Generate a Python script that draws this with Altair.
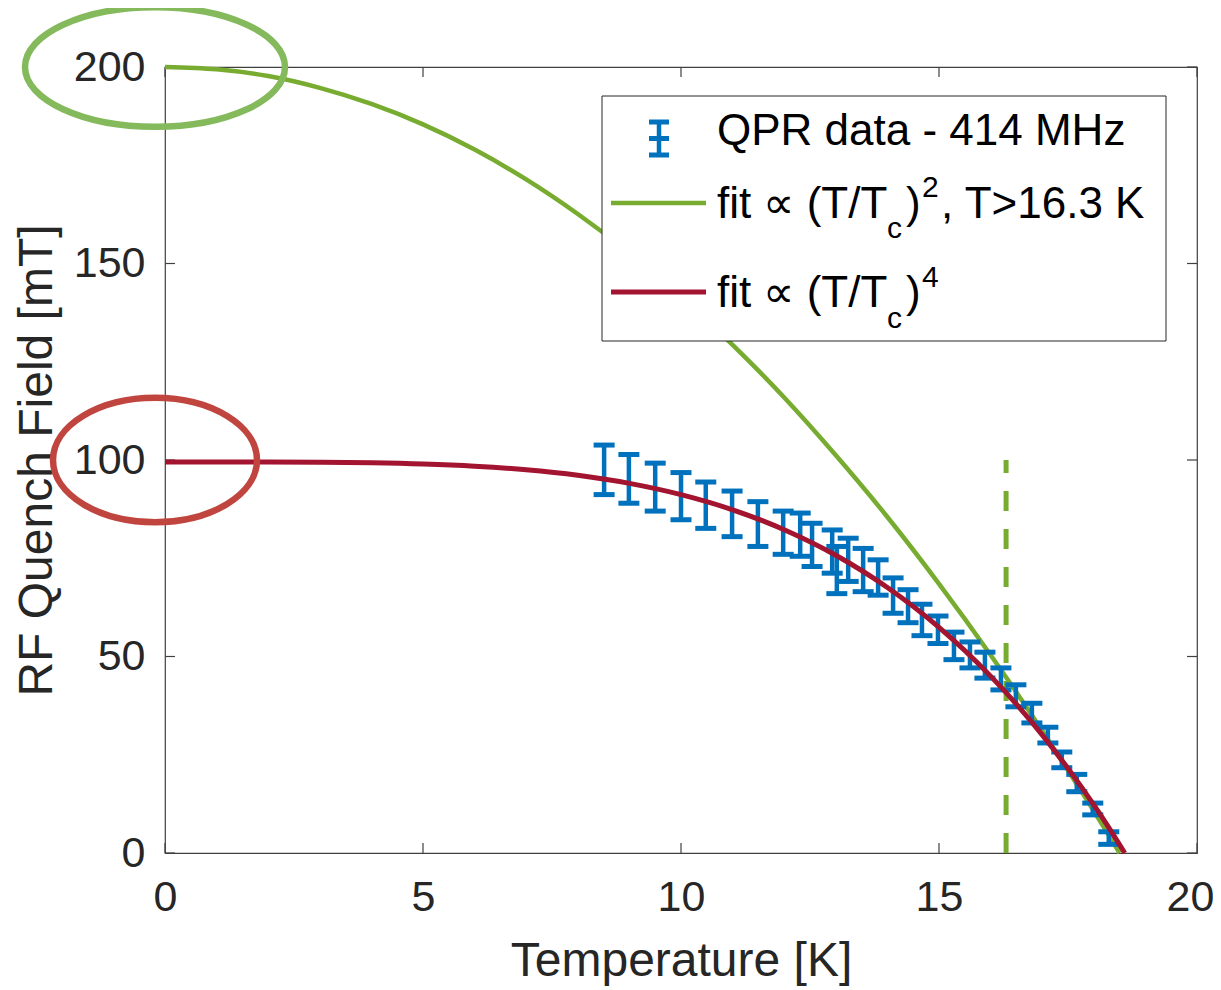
import altair as alt
import pandas as pd

# ---------------- data ----------------
temp_K = [8.51, 8.99, 9.50, 10.00, 10.48, 10.99, 11.49, 11.98, 12.31, 12.54,
          12.93, 13.02, 13.24, 13.53, 13.82, 14.11, 14.40, 14.67, 14.98, 15.29,
          15.60, 15.89, 16.20, 16.49, 16.80, 17.11, 17.38, 17.67, 17.98, 18.29]
field_mT = [97.5, 95.2, 93.1, 90.8, 88.5, 86.3, 83.7, 81.5, 81.0, 78.4,
            76.7, 72.0, 74.6, 72.0, 70.1, 65.5, 62.8, 59.3, 56.8, 52.7,
            50.4, 47.8, 44.3, 40.0, 35.6, 30.0, 23.7, 17.8, 11.2, 3.8]
err_mT = [6.3, 6.2, 6.1, 6.0, 5.9, 5.8, 5.7, 5.5, 5.5, 5.5,
          5.5, 6.0, 5.5, 5.5, 4.5, 4.5, 4.2, 4.0, 3.5, 3.5,
          3.3, 3.3, 2.8, 2.8, 2.5, 2.0, 2.0, 2.2, 1.5, 1.6]

fit2_T = [0, 1, 2, 3, 4, 5, 6, 7, 8, 9, 10, 11, 12, 13, 14, 15, 16, 17, 17.5, 18, 18.25, 18.5]
fit2_B = [200, 199.4, 197.7, 194.7, 190.6, 185.4, 179.0, 171.4, 162.6, 152.7, 141.6,
          129.3, 115.9, 101.2, 85.5, 68.5, 50.4, 31.1, 21.0, 10.7, 5.4, 0]

fit4_T = [0, 1, 2, 3, 4, 5, 6, 7, 8, 9, 10, 11, 12, 13, 14, 15, 16, 17, 17.5, 18, 18.25, 18.6]
fit4_B = [99.5, 99.5, 99.49, 99.43, 99.29, 98.98, 98.42, 97.50, 96.10, 94.05, 91.19,
          87.33, 82.26, 75.76, 67.56, 57.41, 45.01, 30.06, 21.5, 12.24, 7.3, 0]

cut_T = [16.3]
cut_range = [0, 100]

x_ticks = [0, 5, 10, 15, 20]
y_ticks = [0, 50, 100, 150, 200]

x_title = "Temperature [K]"
y_title = "RF Quench Field [mT]"
legend_data = "QPR data - 414 MHz"
legend_fit_main = "fit \u221d (T/T"
legend_sub = "c"
legend_paren = ")"
legend_sup2 = "2"
legend_sup4 = "4"
legend_fit2_tail = ", T>16.3 K"

# ---------------- styling ----------------
FONT = "Liberation Sans"
TXT = "#262626"
AX = "#404040"
BLUE = "#0072BD"
GREEN = "#77AC30"
RED = "#A2142F"
W, H = 1032, 786

xs = alt.Scale(domain=[0, 20], nice=False, zero=False)
ys = alt.Scale(domain=[0, 200], nice=False, zero=False)

xaxis = alt.Axis(values=x_ticks, title=x_title, ticks=False, tickSize=0, domain=False, grid=False,
                 labelFlush=False, labelOverlap=False,
                 labelOffset=alt.ExprRef(expr="datum.value == 20 ? -7 : 0"),
                 labelFont=FONT, labelFontSize=43, labelColor=TXT, labelPadding=23,
                 titleFont=FONT, titleFontSize=48, titleFontWeight="normal", titleColor=TXT,
                 titlePadding=18)
yaxis = alt.Axis(values=y_ticks, title=y_title, ticks=False, tickSize=0, domain=False, grid=False,
                 labelFlush=False, labelOverlap=False,
                 labelFont=FONT, labelFontSize=43, labelColor=TXT, labelPadding=20,
                 titleFont=FONT, titleFontSize=48, titleFontWeight="normal", titleColor=TXT,
                 titlePadding=12)


def X(f):
    return alt.X(f, type="quantitative", scale=xs, axis=xaxis)


def Y(f):
    return alt.Y(f, type="quantitative", scale=ys, axis=yaxis)


pts = pd.DataFrame({
    "T": temp_K,
    "B": field_mT,
    "lo": [b - e for b, e in zip(field_mT, err_mT)],
    "hi": [b + e for b, e in zip(field_mT, err_mT)],
})
g_df = pd.DataFrame({"T": fit2_T, "B": fit2_B})
r_df = pd.DataFrame({"T": fit4_T, "B": fit4_B})
cut_df = pd.DataFrame({"T": cut_T, "lo": [cut_range[0]], "hi": [cut_range[1]]})
xt_df = pd.DataFrame({"T": x_ticks})
yt_df = pd.DataFrame({"B": y_ticks})
ell_g = pd.DataFrame({"T": [0], "B": [200]})
ell_r = pd.DataFrame({"T": [0], "B": [100]})
one = alt.Data(values=[{"k": 1}])

layers = []

# inward ticks (bottom, top, left, right)
layers.append(alt.Chart(xt_df).mark_rule(color=AX, strokeWidth=1.2).encode(
    x=X("T"), y=alt.value(H), y2=alt.value(H - 10)))
layers.append(alt.Chart(xt_df).mark_rule(color=AX, strokeWidth=1.2).encode(
    x=X("T"), y=alt.value(0), y2=alt.value(10)))
layers.append(alt.Chart(yt_df).mark_rule(color=AX, strokeWidth=1.2).encode(
    y=Y("B"), x=alt.value(0), x2=alt.value(10)))
layers.append(alt.Chart(yt_df).mark_rule(color=AX, strokeWidth=1.2).encode(
    y=Y("B"), x=alt.value(W), x2=alt.value(W - 10)))

# fit curve (T/Tc)^2
layers.append(alt.Chart(g_df).mark_line(color=GREEN, strokeWidth=4.5, interpolate="monotone").encode(
    x=X("T"), y=Y("B")))

# vertical dashed cut line
layers.append(alt.Chart(cut_df).mark_rule(color=GREEN, strokeWidth=5, strokeDash=[20, 18]).encode(
    x=X("T"), y=Y("lo"), y2=alt.Y2("hi")))

# error bars
layers.append(alt.Chart(pts).mark_rule(color=BLUE, strokeWidth=4.5).encode(
    x=X("T"), y=Y("lo"), y2=alt.Y2("hi")))
layers.append(alt.Chart(pts).mark_tick(color=BLUE, orient="horizontal", size=21, thickness=5, opacity=1).encode(
    x=X("T"), y=Y("lo")))
layers.append(alt.Chart(pts).mark_tick(color=BLUE, orient="horizontal", size=21, thickness=5, opacity=1).encode(
    x=X("T"), y=Y("hi")))

# fit curve (T/Tc)^4
layers.append(alt.Chart(r_df).mark_line(color=RED, strokeWidth=5, interpolate="monotone").encode(
    x=X("T"), y=Y("B")))

# highlight ellipses
layers.append(alt.Chart(ell_g).mark_point(
    shape="M -1 0 A 1 0.46 0 1 1 1 0 A 1 0.46 0 1 1 -1 0 Z",
    size=260 ** 2, filled=False, stroke="#84BA5B", strokeWidth=6.5, opacity=1, xOffset=-10).encode(
    x=X("T"), y=Y("B")))
layers.append(alt.Chart(ell_r).mark_point(
    shape="M -1 0 A 1 0.61 0 1 1 1 0 A 1 0.61 0 1 1 -1 0 Z",
    size=204 ** 2, filled=False, stroke="#C0453F", strokeWidth=6.5, opacity=1, xOffset=-10).encode(
    x=X("T"), y=Y("B")))

# ---------------- legend ----------------
layers.append(alt.Chart(one).mark_rect(fill="white", stroke=TXT, strokeWidth=1).encode(
    x=alt.value(437), x2=alt.value(1001), y=alt.value(29), y2=alt.value(274)))
# errorbar symbol
layers.append(alt.Chart(one).mark_rule(color=BLUE, strokeWidth=4.5).encode(
    x=alt.value(494), y=alt.value(55), y2=alt.value(88)))
for yy in (55, 71.5, 88):
    layers.append(alt.Chart(one).mark_rule(color=BLUE, strokeWidth=5).encode(
        x=alt.value(484), x2=alt.value(504), y=alt.value(yy)))
# line samples
layers.append(alt.Chart(one).mark_rule(color=GREEN, strokeWidth=4.5).encode(
    x=alt.value(446), x2=alt.value(541), y=alt.value(136)))
layers.append(alt.Chart(one).mark_rule(color=RED, strokeWidth=5).encode(
    x=alt.value(446), x2=alt.value(541), y=alt.value(225)))


def txt(s, x, y, size=44):
    return alt.Chart(one).mark_text(text=s, font=FONT, fontSize=size, color="black",
                                    align="left", baseline="alphabetic").encode(
        x=alt.value(x), y=alt.value(y))


layers += [
    txt(legend_data, 552, 78),
    txt(legend_fit_main, 552, 151),
    txt(legend_sub, 722, 171, 30),
    txt(legend_paren, 741, 151),
    txt(legend_sup2, 757, 130, 30),
    txt(legend_fit2_tail, 776, 151),
    txt(legend_fit_main, 552, 240),
    txt(legend_sub, 722, 261, 30),
    txt(legend_paren, 741, 240),
    txt(legend_sup4, 757, 220, 30),
]

chart = alt.layer(*layers).properties(
    width=W, height=H,
    autosize=alt.AutoSizeParams(type="none"),
    padding={"left": 157, "top": 59, "right": 16, "bottom": 135},
    background="white",
).configure_view(stroke=AX, strokeWidth=1.2)

chart.save("out.html", embed_options={"renderer": "svg", "actions": False})
